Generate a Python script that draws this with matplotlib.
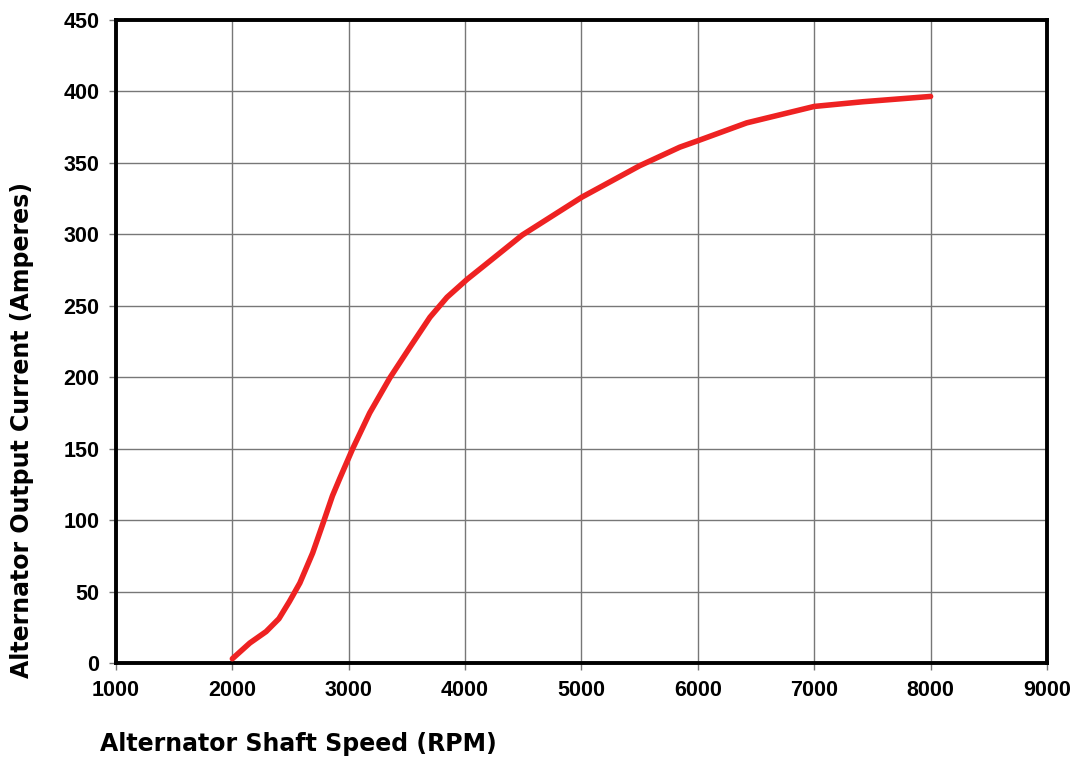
import numpy as np
import matplotlib.pyplot as plt

# Alternator output current vs shaft speed
rpm = [2000, 2150, 2290, 2400, 2490, 2580, 2690, 2780, 2860, 2922, 3034,
       3180, 3353, 3526, 3698, 3845, 4017, 4155, 4491, 5003, 5500, 5845,
       6000, 6420, 7000, 7420, 8000]
amps = [3, 14, 22, 31, 43, 56, 77, 98, 117, 129, 150,
        175, 199.5, 221, 242, 256, 268.5, 277.5, 299.5, 326, 348, 361,
        365.5, 378, 389.5, 392.8, 396.5]

xticks = [1000, 2000, 3000, 4000, 5000, 6000, 7000, 8000, 9000]
yticks = [0, 50, 100, 150, 200, 250, 300, 350, 400, 450]

fig = plt.figure(figsize=(10.76, 7.6), dpi=100)
ax = fig.add_axes([0.1078, 0.1276, 0.8652, 0.8461])

ax.plot(rpm, amps, color='#ee2222', lw=4.0, solid_capstyle='round',
        solid_joinstyle='round', zorder=3)

ax.set_xlim(1000, 9000)
ax.set_ylim(0, 450)
ax.set_xticks(xticks)
ax.set_yticks(yticks)
ax.grid(True, color='#777777', lw=1.0, zorder=0)

for s in ax.spines.values():
    s.set_linewidth(2.8)
    s.set_color('black')

ax.tick_params(length=5, width=1, color='#777777', pad=7)
for lab in ax.get_xticklabels() + ax.get_yticklabels():
    lab.set_fontfamily('Liberation Sans')
    lab.set_fontweight('bold')
    lab.set_fontsize(15.5)

ax.set_xlabel('Alternator Shaft Speed (RPM)', fontsize=17, fontweight='bold',
              family='DejaVu Sans', ha='left')
ax.xaxis.set_label_coords(-0.017, -0.108)
ax.set_ylabel('Alternator Output Current (Amperes)', fontsize=17,
              fontweight='bold', family='DejaVu Sans')
ax.yaxis.set_label_coords(-0.088, 0.362)

fig.savefig('out.png', dpi=100)
